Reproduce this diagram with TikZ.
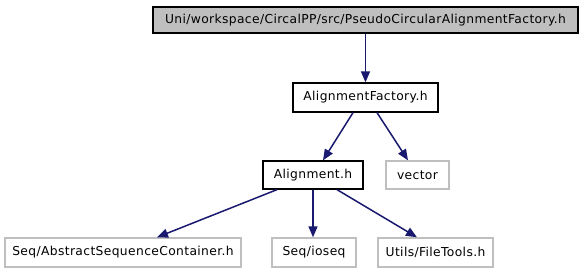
\documentclass[tikz,border=0pt]{standalone}
\usepackage{fontspec}
\setmainfont{DejaVu Sans}[LetterSpace=3]
\usetikzlibrary{arrows.meta,calc}
\definecolor{edgeblue}{HTML}{191970}
\definecolor{boxgray}{HTML}{BFBFBF}
\begin{document}
\begin{tikzpicture}[x=1pt,y=1pt,
  file/.style={draw=black,line width=1.3pt,fill=white,inner sep=0pt,
    font=\fontsize{12.3}{14}\selectfont},
  sysfile/.style={file,draw=boxgray,line width=1.4pt},
  rootfile/.style={file,fill=boxgray},
  edge/.style={draw=edgeblue,line width=1.5pt,
    -{Triangle[length=11pt,width=9pt]}}]
\useasboundingbox (0,0) rectangle (581,272);
\fill[white] (0,0) rectangle (581,272);
% header files, one row per include level
\node[rootfile,minimum width=425,minimum height=26] (top) at (365.5,252)
  {Uni/workspace/CircalPP/src/PseudoCircularAlignmentFactory.h};
\node[file,minimum width=145,minimum height=29] (af) at (365.5,174.5) {AlignmentFactory.h};
\node[file,minimum width=100,minimum height=28] (al) at (313,97) {Alignment.h};
\node[sysfile,minimum width=63,minimum height=28] (vec) at (417.5,97) {vector};
\node[sysfile,minimum width=236,minimum height=29] (asc) at (123,19.5) {Seq/AbstractSequenceContainer.h};
\node[sysfile,minimum width=84,minimum height=29] (io) at (314,19.5) {Seq/ioseq};
\node[sysfile,minimum width=115,minimum height=29] (ut) at (435.5,19.5) {Utils/FileTools.h};
% include edges
\draw[edge] (top.south) -- (af.north);
\draw[edge] ($(af.south)+(-12.5,0)$) -- ($(al.north)+(10,0)$);
\draw[edge] ($(af.south)+(11.5,0)$) -- ($(vec.north)+(-9.5,0)$);
\draw[edge] ($(al.south)+(-36,0)$) -- ($(asc.north)+(34,0)$);
\draw[edge] (al.south) -- (al.south |- io.north);
\draw[edge] ($(al.south)+(24,0)$) -- ($(ut.north)+(-18.5,0)$);
\end{tikzpicture}
\end{document}
